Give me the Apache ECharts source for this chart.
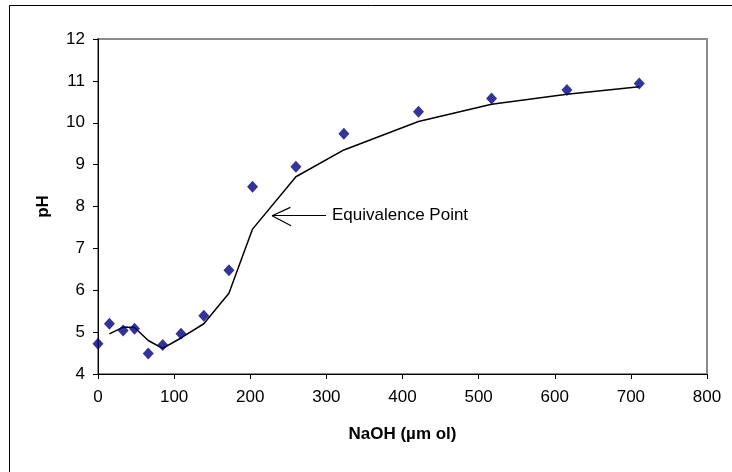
<!DOCTYPE html>
<html>
<head>
<meta charset="utf-8">
<script src="https://cdn.jsdelivr.net/npm/echarts@6/dist/echarts.min.js"></script>
<style>html,body{margin:0;padding:0;background:#fff}#c{width:732px;height:472px}</style>
</head>
<body>
<div id="c"></div>
<script>
// Measured points
const obsX = [0, 15, 33, 48, 66, 85, 109, 139, 172, 203, 260, 323, 421, 517, 616, 711];
const obsPH = [4.72, 5.20, 5.04, 5.08, 4.49, 4.69, 4.96, 5.39, 6.48, 8.47, 8.95, 9.74, 10.26, 10.58, 10.78, 10.94];
// Fitted curve
const fitX = [15, 33, 48, 66, 85, 109, 139, 172, 203, 260, 323, 421, 517, 616, 711];
const fitPH = [4.96, 5.12, 5.11, 4.80, 4.61, 4.86, 5.20, 5.93, 7.46, 8.71, 9.35, 10.03, 10.44, 10.68, 10.86];
// Annotation arrow (data coordinates)
const arrowTip = [228.7, 7.78];
const arrowTail = [299.5, 7.78];
const barbA = [252.7, 7.98];
const barbB = [253.6, 7.54];
const annotationText = 'Equivalence Point';

const chart = echarts.init(document.getElementById('c'));
const font = 'Liberation Sans, Arial, sans-serif';
chart.setOption({
  animation: false,
  backgroundColor: '#fff',
  grid: {left: 98, top: 39, right: 25, bottom: 98, show: true, borderColor: '#8c8c8c', borderWidth: 2},
  graphic: [{
    type: 'rect', shape: {x: 9.5, y: 5.5, width: 800, height: 600},
    style: {fill: 'none', stroke: '#000', lineWidth: 1}, silent: true, z: 100
  }],
  xAxis: {
    type: 'value', min: 0, max: 800, interval: 100,
    name: 'NaOH (µm ol)', nameLocation: 'middle', nameGap: 52,
    nameTextStyle: {fontFamily: font, fontSize: 17, fontWeight: 'bold', color: '#000'},
    axisLine: {show: true, onZero: false, lineStyle: {color: '#000', width: 1}},
    axisTick: {show: true, inside: false, length: 5, lineStyle: {color: '#000'}},
    axisLabel: {fontFamily: font, fontSize: 17, color: '#000', margin: 15},
    splitLine: {show: false}
  },
  yAxis: {
    type: 'value', min: 4, max: 12, interval: 1,
    name: 'pH', nameLocation: 'middle', nameGap: 46, nameRotate: 90,
    nameTextStyle: {fontFamily: font, fontSize: 17, fontWeight: 'bold', color: '#000'},
    axisLine: {show: true, onZero: false, lineStyle: {color: '#000', width: 1}},
    axisTick: {show: true, inside: false, length: 5, lineStyle: {color: '#000'}},
    axisLabel: {fontFamily: font, fontSize: 17, color: '#000', margin: 13},
    splitLine: {show: false}
  },
  series: [
    {
      type: 'line', data: fitX.map((x, i) => [x, fitPH[i]]),
      showSymbol: false, symbol: 'none',
      lineStyle: {color: '#000', width: 1.5}, z: 2,
      markLine: {
        silent: true, symbol: ['none', 'none'], animation: false,
        lineStyle: {color: '#000', width: 1.2, type: 'solid'},
        label: {show: false},
        data: [
          [{coord: arrowTip}, {coord: arrowTail, label: {show: true, position: 'end', formatter: annotationText, fontFamily: font, fontSize: 17, color: '#000', distance: 6}}],
          [{coord: arrowTip}, {coord: barbA}],
          [{coord: arrowTip}, {coord: barbB}]
        ]
      }
    },
    {
      type: 'scatter', data: obsX.map((x, i) => [x, obsPH[i]]),
      symbol: 'diamond', symbolSize: [11, 12],
      itemStyle: {color: '#000080'}, z: 3
    }
  ]
});
</script>
</body>
</html>
